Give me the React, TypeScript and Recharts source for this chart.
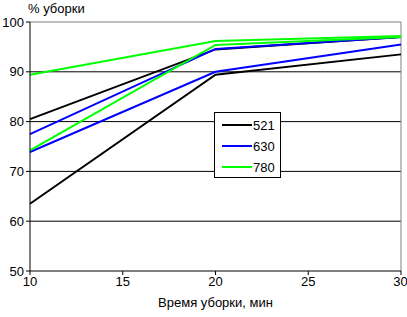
import { LineChart, Line, XAxis, YAxis, ReferenceLine } from "recharts";

const times = [10, 20, 30];
const s521a = [80.5, 94.5, 97];
const s521b = [63.5, 89.4, 93.5];
const s630a = [77.5, 94.6, 97];
const s630b = [73.9, 90, 95.5];
const s780a = [89.4, 96.2, 97.2];
const s780b = [74.2, 95.4, 97];
const xTicks = [10, 15, 20, 25, 30];
const yTicks = [50, 60, 70, 80, 90, 100];
const gridLines = [60, 70, 80, 90];

const data = times.map((t, i) => ({
  t,
  a521: s521a[i],
  b521: s521b[i],
  a630: s630a[i],
  b630: s630b[i],
  a780: s780a[i],
  b780: s780b[i],
}));

const FONT = "'Liberation Sans', Arial, sans-serif";

const legendItems = [
  { name: "521", color: "#000000" },
  { name: "630", color: "#0000ff" },
  { name: "780", color: "#00ff00" },
];

function LegendBox() {
  return (
    <div
      style={{
        position: "absolute",
        left: 214,
        top: 112,
        width: 65,
        height: 64,
        border: "1px solid #000",
        background: "#fff",
        fontFamily: FONT,
        fontSize: 13,
      }}
    >
      {legendItems.map((it, i) => (
        <div
          key={it.name}
          style={{ position: "absolute", left: 7, top: 4 + i * 21, display: "flex", alignItems: "center", height: 16 }}
        >
          <span style={{ display: "inline-block", width: 30, height: 2, background: it.color }} />
          <span style={{ marginLeft: 1, color: "#000" }}>{it.name}</span>
        </div>
      ))}
    </div>
  );
}

export default function App() {
  return (
    <div style={{ position: "absolute", left: 0, top: 0, width: 407, height: 317, background: "#fff" }}>
      <div style={{ position: "absolute", left: 28, top: 1, fontFamily: FONT, fontSize: 13, color: "#000" }}>
        % уборки
      </div>
      <LineChart
        width={407}
        height={317}
        data={data}
        margin={{ top: 22, right: 6, left: 0, bottom: 0 }}
      >
        <XAxis
          dataKey="t"
          type="number"
          domain={[10, 30]}
          ticks={xTicks}
          stroke="#000"
          tickSize={4}
          tick={{ fill: "#000", fontSize: 13, fontFamily: FONT }}
          height={46}
          label={{ value: "Время уборки, мин", position: "insideBottom", offset: 10, fill: "#000", fontSize: 13, fontFamily: FONT }}
        />
        <YAxis
          type="number"
          domain={[50, 100]}
          ticks={yTicks}
          stroke="#000"
          tickSize={4}
          width={30}
          tick={{ fill: "#000", fontSize: 13, fontFamily: FONT }}
        />
        {gridLines.map((v) => (
          <ReferenceLine key={v} y={v} stroke="#000" strokeWidth={1} />
        ))}
        <ReferenceLine y={100} stroke="#808080" strokeWidth={1} />
        <ReferenceLine x={30} stroke="#808080" strokeWidth={1} />
        <Line dataKey="a521" stroke="#000000" strokeWidth={2} dot={false} isAnimationActive={false} />
        <Line dataKey="b521" stroke="#000000" strokeWidth={2} dot={false} isAnimationActive={false} />
        <Line dataKey="a630" stroke="#0000ff" strokeWidth={2} dot={false} isAnimationActive={false} />
        <Line dataKey="b630" stroke="#0000ff" strokeWidth={2} dot={false} isAnimationActive={false} />
        <Line dataKey="a780" stroke="#00ff00" strokeWidth={2} dot={false} isAnimationActive={false} />
        <Line dataKey="b780" stroke="#00ff00" strokeWidth={2} dot={false} isAnimationActive={false} />
      </LineChart>
      <LegendBox />
    </div>
  );
}
